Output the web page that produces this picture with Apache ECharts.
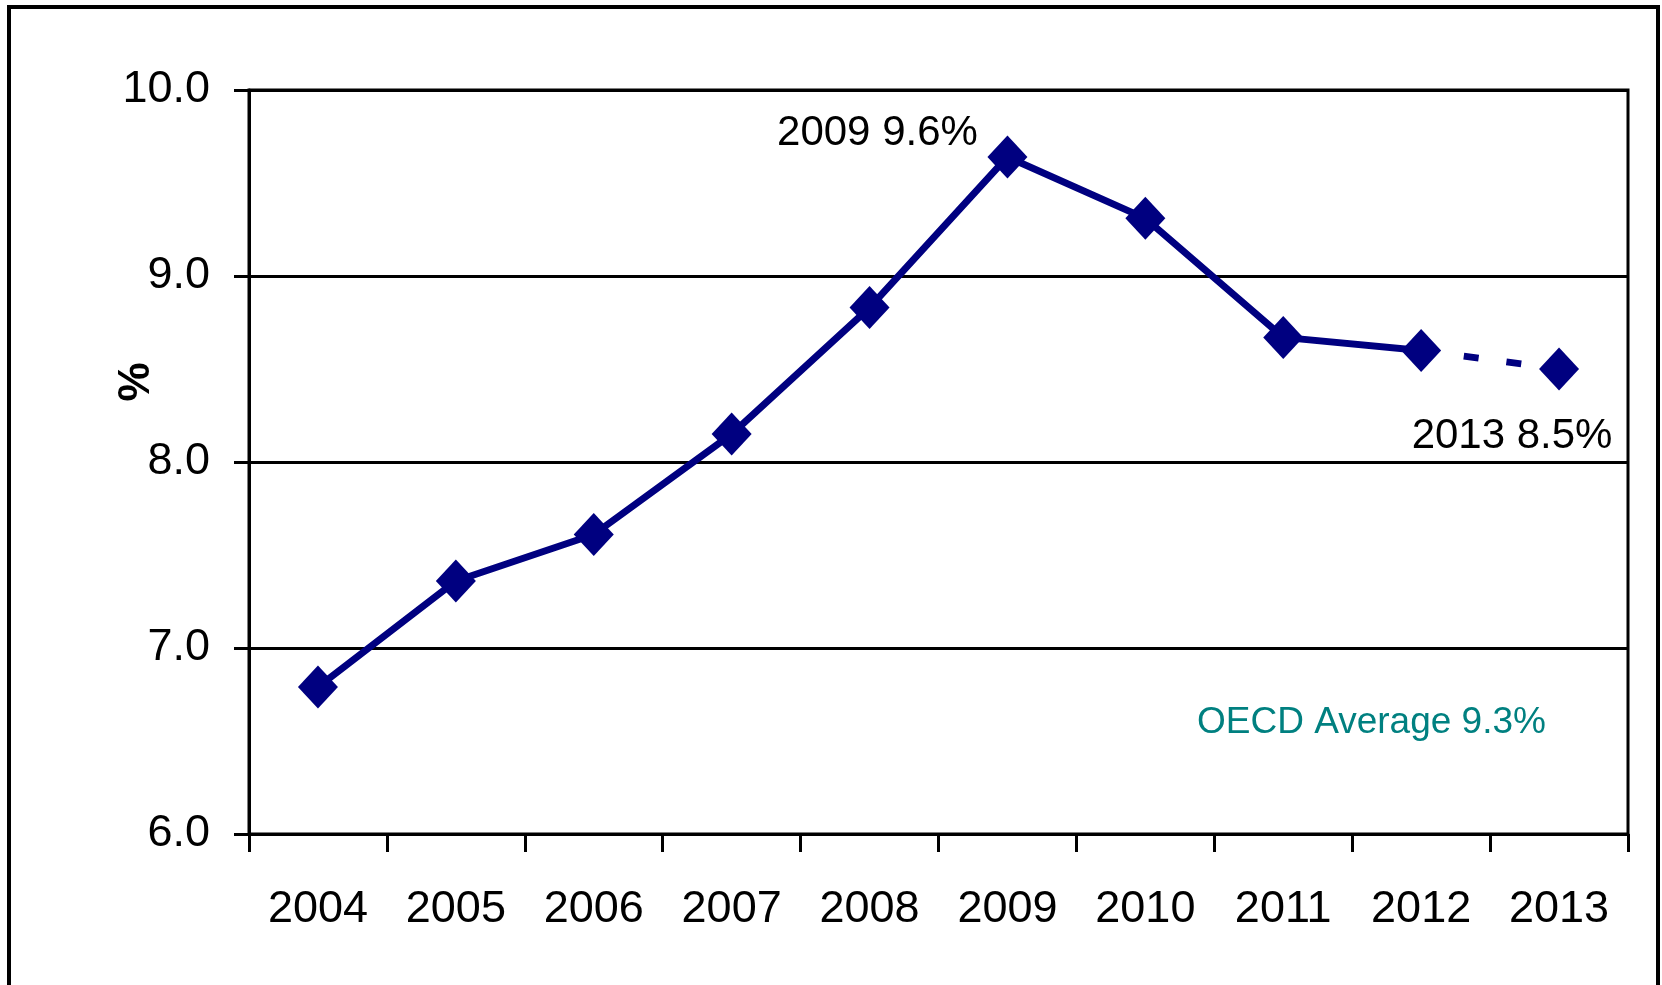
<!DOCTYPE html>
<html>
<head>
<meta charset="utf-8">
<title>Rate 2004–2013</title>
<script src="https://cdn.jsdelivr.net/npm/echarts@6/dist/echarts.min.js"></script>
<style>
  html, body { margin: 0; padding: 0; background: #fff; }
  #chart { width: 1662px; height: 985px; }
</style>
</head>
<body>
<div id="chart"></div>
<script>
// Years on the category axis
const years = ['2004', '2005', '2006', '2007', '2008', '2009', '2010', '2011', '2012', '2013'];
// Rate in percent for each year
const rates = [6.79, 7.36, 7.61, 8.15, 8.83, 9.64, 9.31, 8.67, 8.60, 8.50];
// Last year with an actual figure; the step after it is drawn dashed
const lastActualIndex = 8;
// Years whose value gets a text label
const labelledYears = ['2009', '2013'];
// Reference figure shown as a note
const oecdAverage = 9.3;
// Y axis tick range
const yMin = 6, yMax = 10, yStep = 1;

const FONT = '"Liberation Sans", Arial, Helvetica, sans-serif';
const NAVY = '#000080';

const labelOffsets = { '2009': [-130, -24], '2013': [-47, 67] };

function pointLabel(i) {
  const y = years[i];
  if (labelledYears.indexOf(y) < 0) return undefined;
  return {
    show: true,
    position: 'inside',
    offset: labelOffsets[y],
    formatter: y + ' ' + rates[i].toFixed(1) + '%',
    color: '#000',
    fontFamily: FONT,
    fontSize: 42
  };
}

const actualData = years.map((y, i) => {
  if (i > lastActualIndex) return '-';
  const item = { value: rates[i] };
  const lab = pointLabel(i);
  if (lab) item.label = lab;
  return item;
});

const projectedData = years.map((y, i) => {
  if (i < lastActualIndex) return '-';
  if (i === lastActualIndex) return { value: rates[i], symbol: 'none' };
  const item = { value: rates[i] };
  const lab = pointLabel(i);
  if (lab) item.label = lab;
  return item;
});

const chart = echarts.init(document.getElementById('chart'));
chart.setOption({
  animation: false,
  backgroundColor: '#fff',
  grid: {
    left: 249, top: 90, right: 34, bottom: 151,
    show: true, borderColor: '#000', borderWidth: 3, backgroundColor: 'transparent'
  },
  xAxis: {
    type: 'category',
    data: years,
    boundaryGap: true,
    axisLine: { lineStyle: { color: '#000', width: 3 } },
    axisTick: { show: true, length: 18, lineStyle: { color: '#000', width: 3 } },
    axisLabel: { color: '#000', fontFamily: FONT, fontSize: 45, margin: 53 },
    splitLine: { show: false }
  },
  yAxis: {
    type: 'value',
    min: yMin, max: yMax, interval: yStep,
    axisLine: { show: true, lineStyle: { color: '#000', width: 3 } },
    axisTick: { show: true, length: 15, lineStyle: { color: '#000', width: 3 } },
    axisLabel: {
      color: '#000', fontFamily: FONT, fontSize: 45, margin: 39,
      formatter: v => v.toFixed(1)
    },
    splitLine: { show: true, lineStyle: { color: '#000', width: 3 } }
  },
  series: [
    {
      type: 'line',
      data: actualData,
      symbol: 'diamond',
      symbolSize: [40, 43],
      showAllSymbol: true,
      itemStyle: { color: NAVY },
      lineStyle: { color: NAVY, width: 7 },
      z: 3
    },
    {
      type: 'line',
      data: projectedData,
      symbol: 'diamond',
      symbolSize: [40, 43],
      showAllSymbol: true,
      itemStyle: { color: NAVY },
      lineStyle: { color: NAVY, width: 7, type: [15, 28] },
      z: 2
    }
  ],
  graphic: [
    {
      type: 'rect',
      silent: true,
      shape: { x: 9, y: 7, width: 1649, height: 1100 },
      style: { fill: null, stroke: '#000', lineWidth: 4 }
    },
    {
      type: 'text',
      silent: true,
      x: 137, y: 382,
      rotation: Math.PI / 2,
      style: {
        text: '%', fill: '#000', font: 'bold 44px ' + FONT,
        align: 'center', verticalAlign: 'middle'
      }
    },
    {
      type: 'text',
      silent: true,
      x: 1197, y: 723,
      style: {
        text: 'OECD Average ' + oecdAverage.toFixed(1) + '%',
        fill: '#008080', font: '37px ' + FONT,
        align: 'left', verticalAlign: 'middle'
      }
    }
  ]
});
</script>
</body>
</html>
